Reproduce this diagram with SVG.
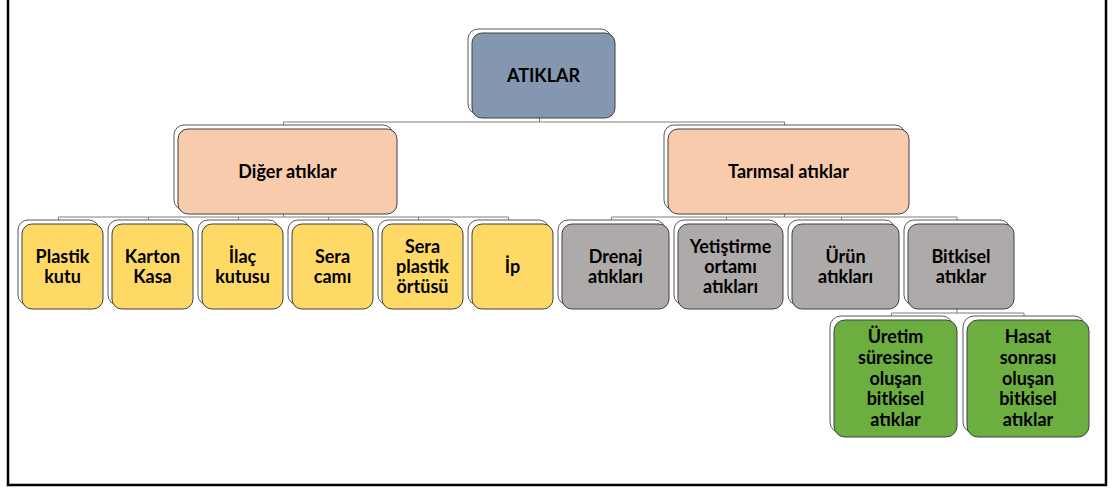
<svg xmlns="http://www.w3.org/2000/svg" width="1112" height="488" viewBox="0 0 1112 488">
<style>
.bk{fill:#ffffff;stroke:#595959;stroke-width:1}
.fr{stroke:#404040;stroke-width:1}
.c0{fill:#8497B0}
.c1{fill:#F8CBAD}
.c2{fill:#FFD966}
.c3{fill:#AEAAAA}
.c4{fill:#6CAE40}
text{font-family:Lato,"Open Sans","Liberation Sans",sans-serif;font-weight:bold;font-size:18px;fill:#000;text-anchor:middle}
.cn{fill:none;stroke:#7F7F7F;stroke-width:1}
</style>
<rect x="8" y="-5" width="1098" height="490" fill="#ffffff" stroke="#000" stroke-width="2.5"/>
<g id="connectors">
<path class="cn" d="M539.5 118V122M283.5 122H784.5M283.5 122V125M784.5 122V125"/>
<path class="cn" d="M283.5 214V217M58.5 217H508.5M58.5 217V220M148.5 217V220M238.5 217V220M328.5 217V220M418.5 217V220M508.5 217V220"/>
<path class="cn" d="M784.5 214V217M611.5 217H957M611.5 217V220M726.5 217V220M841.5 217V220M957 217V220"/>
<path class="cn" d="M957 309V313M891.5 313H1024M891.5 313V316M1024 313V316"/>
</g>
<g id="n-atiklar">
<rect class="bk" x="468" y="29" width="143" height="85" rx="10"/>
<rect class="fr c0" x="472" y="33" width="143" height="85" rx="10"/>
<text x="543.5" y="82">ATIKLAR</text>
</g>
<g id="n-diger">
<rect class="bk" x="174" y="125" width="219" height="85" rx="10"/>
<rect class="fr c1" x="178" y="129" width="219" height="85" rx="10"/>
<text x="287.5" y="178">Diğer atıklar</text>
</g>
<g id="n-tarimsal">
<rect class="bk" x="664" y="125" width="241" height="85" rx="10"/>
<rect class="fr c1" x="668" y="129" width="241" height="85" rx="10"/>
<text x="788.5" y="178">Tarımsal atıklar</text>
</g>
<g id="n-plastik">
<rect class="bk" x="18" y="220" width="81" height="85" rx="10"/>
<rect class="fr c2" x="22" y="224" width="81" height="85" rx="10"/>
<text x="62.5" y="263">Plastik</text><text x="62.5" y="283">kutu</text>
</g>
<g id="n-karton">
<rect class="bk" x="108" y="220" width="81" height="85" rx="10"/>
<rect class="fr c2" x="112" y="224" width="81" height="85" rx="10"/>
<text x="152.5" y="263">Karton</text><text x="152.5" y="283">Kasa</text>
</g>
<g id="n-ilac">
<rect class="bk" x="198" y="220" width="81" height="85" rx="10"/>
<rect class="fr c2" x="202" y="224" width="81" height="85" rx="10"/>
<text x="242.5" y="263">İlaç</text><text x="242.5" y="283">kutusu</text>
</g>
<g id="n-seracami">
<rect class="bk" x="288" y="220" width="81" height="85" rx="10"/>
<rect class="fr c2" x="292" y="224" width="81" height="85" rx="10"/>
<text x="332.5" y="263">Sera</text><text x="332.5" y="283">camı</text>
</g>
<g id="n-seraplastik">
<rect class="bk" x="378" y="220" width="81" height="85" rx="10"/>
<rect class="fr c2" x="382" y="224" width="81" height="85" rx="10"/>
<text x="422.5" y="253">Sera</text><text x="422.5" y="273">plastik</text><text x="422.5" y="293">örtüsü</text>
</g>
<g id="n-ip">
<rect class="bk" x="468" y="220" width="81" height="85" rx="10"/>
<rect class="fr c2" x="472" y="224" width="81" height="85" rx="10"/>
<text x="512.5" y="273">İp</text>
</g>
<g id="n-drenaj">
<rect class="bk" x="558" y="220" width="107" height="85" rx="10"/>
<rect class="fr c3" x="562" y="224" width="107" height="85" rx="10"/>
<text x="615.5" y="263">Drenaj</text><text x="615.5" y="283">atıkları</text>
</g>
<g id="n-yetistirme">
<rect class="bk" x="674" y="220" width="105" height="85" rx="10"/>
<rect class="fr c3" x="678" y="224" width="105" height="85" rx="10"/>
<text x="730.5" y="253">Yetiştirme</text><text x="730.5" y="273">ortamı</text><text x="730.5" y="293">atıkları</text>
</g>
<g id="n-urun">
<rect class="bk" x="788" y="220" width="107" height="85" rx="10"/>
<rect class="fr c3" x="792" y="224" width="107" height="85" rx="10"/>
<text x="845.5" y="263">Ürün</text><text x="845.5" y="283">atıkları</text>
</g>
<g id="n-bitkisel">
<rect class="bk" x="904" y="220" width="106" height="85" rx="10"/>
<rect class="fr c3" x="908" y="224" width="106" height="85" rx="10"/>
<text x="961" y="263">Bitkisel</text><text x="961" y="283">atıklar</text>
</g>
<g id="n-uretim">
<rect class="bk" x="830" y="316" width="123" height="117" rx="11"/>
<rect class="fr c4" x="834" y="320" width="123" height="117" rx="11"/>
<text x="895.5" y="343">Üretim</text><text x="895.5" y="364">süresince</text><text x="895.5" y="385">oluşan</text><text x="895.5" y="405">bitkisel</text><text x="895.5" y="426">atıklar</text>
</g>
<g id="n-hasat">
<rect class="bk" x="963" y="316" width="122" height="117" rx="11"/>
<rect class="fr c4" x="967" y="320" width="122" height="117" rx="11"/>
<text x="1028" y="343">Hasat</text><text x="1028" y="364">sonrası</text><text x="1028" y="385">oluşan</text><text x="1028" y="405">bitkisel</text><text x="1028" y="426">atıklar</text>
</g>
</svg>
